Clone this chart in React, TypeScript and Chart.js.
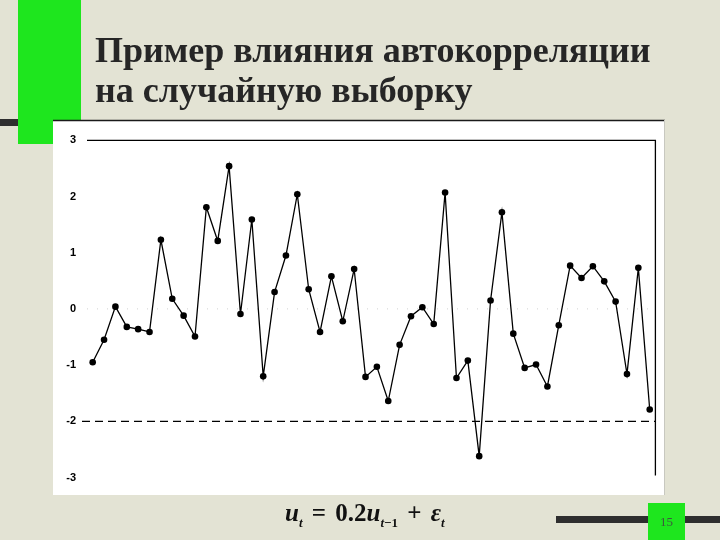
import React, { useEffect, useRef } from "react";
import { Chart, registerables } from "chart.js";

Chart.register(...registerables);

const labels: string[] = Array.from({ length: 50 }, (_, i) => String(i + 1));
const series: number[] = [
  -0.95, -0.55, 0.04, -0.32, -0.36, -0.41, 1.23, 0.18, -0.12, -0.49,
  1.81, 1.21, 2.54, -0.09, 1.59, -1.2, 0.3, 0.95, 2.04, 0.35,
  -0.41, 0.58, -0.22, 0.71, -1.21, -1.03, -1.64, -0.64, -0.13, 0.03,
  -0.27, 2.07, -1.23, -0.92, -2.62, 0.15, 1.72, -0.44, -1.05, -0.99,
  -1.38, -0.29, 0.77, 0.55, 0.76, 0.49, 0.13, -1.16, 0.73, -1.79,
];
const yMin = -3;
const yMax = 3;
const dashedLevel = -2;
const zeroLevel = 0;
const titleLines: string[] = ["Пример влияния автокорреляции", "на случайную выборку"];
const pageNumber = "15";

const slidePlugin = {
  id: "slideDeco",
  beforeDraw(chart: any) {
    const ctx = chart.ctx;
    ctx.save();
    ctx.fillStyle = "#e3e3d4";
    ctx.fillRect(0, 0, chart.width, chart.height);
    ctx.fillStyle = "#2e2e2e";
    ctx.fillRect(0, 119, 60, 7);
    ctx.fillStyle = "#1ee61e";
    ctx.fillRect(18, 0, 63, 144);
    ctx.fillStyle = "#ffffff";
    ctx.fillRect(53, 120, 612, 375);
    ctx.strokeStyle = "#1a1a1a";
    ctx.lineWidth = 1.5;
    ctx.beginPath();
    ctx.moveTo(53, 120.5);
    ctx.lineTo(665, 120.5);
    ctx.stroke();
    ctx.strokeStyle = "#c8c8c0";
    ctx.lineWidth = 1;
    ctx.beginPath();
    ctx.moveTo(664.5, 120);
    ctx.lineTo(664.5, 495);
    ctx.stroke();
    ctx.fillStyle = "#2e2e2e";
    ctx.fillRect(556, 516, 164, 7);
    ctx.fillStyle = "#1ee61e";
    ctx.fillRect(648, 503, 37, 37);
    ctx.restore();
  },
  beforeDatasetsDraw(chart: any) {
    const ctx = chart.ctx;
    const y = chart.scales.y;
    const a = chart.chartArea;
    ctx.save();
    ctx.strokeStyle = "#000";
    ctx.lineWidth = 1.3;
    ctx.beginPath();
    ctx.moveTo(a.left, y.getPixelForValue(yMax));
    ctx.lineTo(a.right, y.getPixelForValue(yMax));
    ctx.lineTo(a.right, y.getPixelForValue(yMin) - 2);
    ctx.stroke();
    ctx.lineWidth = 1.2;
    ctx.setLineDash([8, 5]);
    ctx.beginPath();
    ctx.moveTo(a.left - 5, y.getPixelForValue(dashedLevel));
    ctx.lineTo(a.right, y.getPixelForValue(dashedLevel));
    ctx.stroke();
    ctx.strokeStyle = "#d0d0d0";
    ctx.lineWidth = 1;
    ctx.setLineDash([1, 9]);
    ctx.beginPath();
    ctx.moveTo(a.left, y.getPixelForValue(zeroLevel));
    ctx.lineTo(a.right, y.getPixelForValue(zeroLevel));
    ctx.stroke();
    ctx.restore();
  },
};

export default function App() {
  const ref = useRef<HTMLCanvasElement | null>(null);
  useEffect(() => {
    if (!ref.current) return;
    const chart = new Chart(ref.current, {
      type: "line",
      data: {
        labels,
        datasets: [
          {
            data: series,
            borderColor: "#000",
            borderWidth: 1.3,
            pointRadius: 3.3,
            pointBackgroundColor: "#000",
            pointBorderColor: "#000",
            pointBorderWidth: 0,
            tension: 0,
            fill: false,
          },
        ],
      },
      options: {
        animation: false,
        responsive: true,
        maintainAspectRatio: false,
        layout: { padding: { left: 53, right: 64.6, top: 140.3, bottom: 62.5 } },
        plugins: { legend: { display: false }, tooltip: { enabled: false }, title: { display: false } },
        scales: {
          x: { type: "category", display: false, offset: true },
          y: {
            min: yMin,
            max: yMax,
            ticks: {
              stepSize: 1,
              color: "#000",
              padding: 11,
              font: { family: "Arial, 'Liberation Sans', sans-serif", size: 11, weight: "bold" },
            },
            grid: { display: false, drawTicks: false },
            border: { display: false },
            afterFit: (s: any) => {
              s.width = 34;
            },
          },
        },
      },
      plugins: [slidePlugin],
    });
    return () => chart.destroy();
  }, []);

  return (
    <div style={{ position: "fixed", left: 0, top: 0, width: 720, height: 540, overflow: "hidden" }}>
      <canvas ref={ref} width={720} height={540} />
      <div
        style={{
          position: "absolute",
          left: 95,
          top: 30,
          fontFamily: "'Liberation Serif', 'Times New Roman', serif",
          fontWeight: "bold",
          fontSize: 36,
          lineHeight: "40px",
          color: "#262626",
          whiteSpace: "nowrap",
        }}
      >
        {titleLines.map((t, i) => (
          <div key={i}>{t}</div>
        ))}
      </div>
      <div
        style={{
          position: "absolute",
          left: 285,
          top: 499,
          fontFamily: "'Liberation Serif', 'Times New Roman', serif",
          fontWeight: "bold",
          fontSize: 25,
          lineHeight: "28px",
          color: "#111",
          whiteSpace: "nowrap",
          wordSpacing: 3,
        }}
      >
        <i>u</i>
        <sub style={{ fontSize: 13 }}><i>t</i></sub> = 0.2<i>u</i>
        <sub style={{ fontSize: 13 }}><i>t</i>−1</sub> + <i>ε</i>
        <sub style={{ fontSize: 13 }}><i>t</i></sub>
      </div>
      <div
        style={{
          position: "absolute",
          left: 648,
          top: 503,
          width: 37,
          height: 37,
          lineHeight: "37px",
          textAlign: "center",
          fontFamily: "'Liberation Serif', serif",
          fontSize: 13,
          color: "#3d5a3d",
        }}
      >
        {pageNumber}
      </div>
    </div>
  );
}
